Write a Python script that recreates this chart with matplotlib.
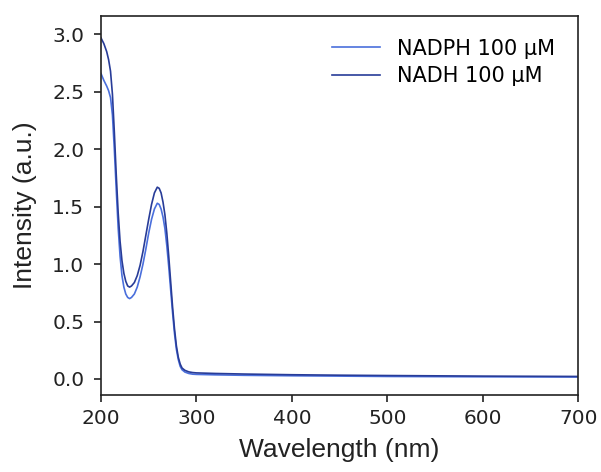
import numpy as np
import matplotlib
matplotlib.use("Agg")
import matplotlib.pyplot as plt

# wavelength (nm) and absorbance
wl = [200, 203, 206, 208, 210, 212, 214, 216, 218, 220, 222, 224, 226, 228, 230, 232,
      235, 238, 241, 244, 247, 250, 253, 256, 259, 261, 263, 265, 267, 269, 271, 273,
      275, 277, 279, 281, 283, 285, 288, 292, 296, 300, 320, 350, 400, 450, 500, 600, 700]

abs_nadph = [2.66, 2.60, 2.55, 2.51, 2.45, 2.30, 2.00, 1.65, 1.32, 1.07, 0.90, 0.80, 0.74,
             0.71, 0.70, 0.71, 0.74, 0.80, 0.89, 1.00, 1.13, 1.27, 1.39, 1.48, 1.53, 1.52,
             1.48, 1.41, 1.31, 1.16, 0.98, 0.78, 0.58, 0.40, 0.26, 0.17, 0.11, 0.08, 0.06,
             0.048, 0.042, 0.040, 0.036, 0.032, 0.028, 0.025, 0.022, 0.019, 0.017]

abs_nadh = [2.97, 2.92, 2.85, 2.78, 2.68, 2.48, 2.15, 1.78, 1.45, 1.20, 1.03, 0.92, 0.85,
            0.81, 0.80, 0.81, 0.84, 0.90, 0.99, 1.11, 1.25, 1.39, 1.52, 1.62, 1.67, 1.66,
            1.62, 1.54, 1.43, 1.27, 1.07, 0.85, 0.63, 0.44, 0.29, 0.19, 0.13, 0.095, 0.075,
            0.062, 0.056, 0.053, 0.048, 0.043, 0.037, 0.033, 0.030, 0.025, 0.022]

labels = ["NADPH 100 µM", "NADH 100 µM"]
colors = ["#4a6fdc", "#283c98"]

fig = plt.figure(figsize=(6.01, 4.72), dpi=100)
ax = fig.add_axes([0.168, 0.163, 0.794, 0.803])

ax.plot(wl, abs_nadph, color=colors[0], lw=1.2, label=labels[0])
ax.plot(wl, abs_nadh, color=colors[1], lw=1.2, label=labels[1])

ax.set_xlim(200, 700)
ax.set_ylim(-0.14, 3.16)
ax.set_xticks([200, 300, 400, 500, 600, 700])
ax.set_yticks([0.0, 0.5, 1.0, 1.5, 2.0, 2.5, 3.0])
ax.tick_params(labelsize=14.5, length=5, width=1.2, colors="#222222")
ax.tick_params(axis="x", pad=5)
ax.tick_params(axis="y", pad=7)
for s in ax.spines.values():
    s.set_linewidth(1.2)
    s.set_color("#222222")

ax.set_xlabel("Wavelength (nm)", fontsize=19, family="Liberation Sans",
              color="#222222", labelpad=7)
ax.set_ylabel("Intensity (a.u.)", fontsize=19, family="Liberation Sans",
              color="#222222", labelpad=11)

ax.legend(frameon=False, fontsize=15, loc="upper right", handlelength=2.3,
          bbox_to_anchor=(0.99, 0.99), labelspacing=0.35)

fig.savefig("out.png", dpi=100)
